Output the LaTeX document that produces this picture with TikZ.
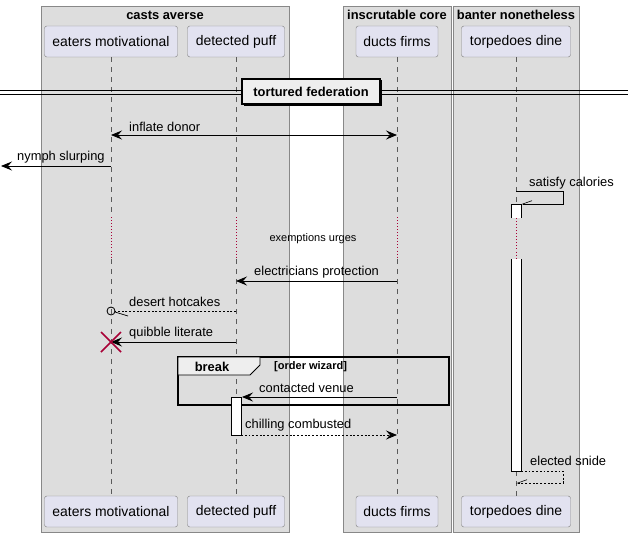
\documentclass[tikz,border=0pt]{standalone}
\usepackage{fontspec}
\setmainfont{Liberation Sans}
\usetikzlibrary{arrows.meta,calc,positioning}
\definecolor{umlbox}{RGB}{221,221,221}
\definecolor{umlpart}{RGB}{226,226,240}
\definecolor{umlnote}{RGB}{238,238,238}
\definecolor{umledge}{RGB}{136,136,136}
\definecolor{umlline}{RGB}{90,90,90}
\definecolor{umlred}{RGB}{168,0,54}
\begin{document}
\begin{tikzpicture}[x=.03cm,y=-.03cm,
    >={Stealth[length=3.3mm,width=2.7mm,inset=1.2mm]},
    lbl/.style={font=\fontsize{11}{13}\selectfont,anchor=west,inner sep=0},
    head/.style={draw=umledge,fill=umlpart,rounded corners=2pt,minimum height=.93cm,inner xsep=0,font=\fontsize{11.9}{14}\selectfont},
    boxtitle/.style={font=\bfseries\fontsize{11}{13}\selectfont,inner sep=0},
    life/.style={umlline,dash pattern=on 1.5mm off 1.5mm,line width=.5pt},
    delay/.style={umlred,dotted,line width=.6pt},
    msg/.style={line width=.7pt},
    ret/.style={msg,dash pattern=on 1.6pt off 1.6pt},
    barb/.style={-{Straight Barb[harpoon,swap,length=2.8mm,width=2mm,line width=.5pt]}},
    act/.style={fill=white,line width=.7pt}]
    \useasboundingbox (0,0) rectangle (628,537);
    % boxes
    \filldraw[fill=umlbox,draw=umledge,line width=.7pt] (41,6) rectangle (289,532); \node[boxtitle] at (165,15) {casts averse};
    \filldraw[fill=umlbox,draw=umledge,line width=.7pt] (343,6) rectangle (451.5,532); \node[boxtitle] at (397,15) {inscrutable core};
    \filldraw[fill=umlbox,draw=umledge,line width=.7pt] (453,6) rectangle (579.5,532); \node[boxtitle] at (516,15) {banter nonetheless};
    % participants
    \node[head,minimum width=3.99cm] (eatersTop) at (111,41.5) {eaters motivational};
    \node[head,minimum width=2.91cm] (puffTop) at (236,41.5) {detected puff};
    \node[head,minimum width=2.46cm] (ductsTop) at (397,41.5) {ducts firms};
    \node[head,minimum width=3.27cm] (dineTop) at (516,41.5) {torpedoes dine};
    \node[head,minimum width=3.99cm] (eatersBot) at (111,511.5) {eaters motivational};
    \node[head,minimum width=2.91cm] (puffBot) at (236,511.5) {detected puff};
    \node[head,minimum width=2.46cm] (ductsBot) at (397,511.5) {ducts firms};
    \node[head,minimum width=3.27cm] (dineBot) at (516,511.5) {torpedoes dine};
    % lifelines
    \foreach \p in {eaters,puff,ducts}{
      \draw[life] (\p Top.south) -- (\p Top |- 0,217);
      \draw[delay] (\p Top |- 0,217) -- (\p Top |- 0,259);
      \draw[life] (\p Top |- 0,259) -- (\p Bot.north);
    }
    \draw[life] (dineTop.south) -- (dineTop |- 0,204);
    \draw[delay] (dineTop |- 0,218) -- (dineTop |- 0,259);
    \draw[life] (dineTop |- 0,471) -- (dineBot.north);
    % divider
    \draw[line width=.8pt] (0,90) -- (628,90) (0,94) -- (628,94);
    \fill (244,80.5) rectangle (382,106);
    \node[draw,line width=1pt,fill=umlnote,boxtitle,minimum width=4.14cm,minimum height=.75cm] (fed) at (311,91.5) {tortured federation};
    % messages
    \coordinate (offLeft) at (1,0);
    \draw[msg,<->] (eatersTop |- 0,135) -- (ductsTop |- 0,135);
    \node[lbl] at (129,127) {inflate donor};
    \draw[msg,->] (eatersTop |- 0,166) -- (offLeft |- 0,166);
    \node[lbl] at (17,157) {nymph slurping};
    \draw[msg,barb] (dineTop |- 0,191) -- ++(47,0) -- ++(0,13) -- ++(-42,0);
    \node[lbl] at (529,183) {satisfy calories};
    \fill[white] (511,204) rectangle (521,218);
    \draw[act] (511,218) -- (511,204) -- (521,204) -- (521,218);
    \fill[white] (511,259) rectangle (521,471);
    \draw[act] (511,259) -- (511,471) -- (521,471) -- (521,259);
    \node[font=\fontsize{9.4}{11}\selectfont] (exemptions) at (313,239) {exemptions urges};
    \draw[msg,->] (ductsTop |- 0,281) -- (puffTop |- 0,281);
    \node[lbl] at (254,272) {electricians protection};
    \draw[ret] (puffTop |- 0,311) -- ($(eatersTop |- 0,311)+(4,0)$);
    \draw[msg] (eatersTop |- 0,311) circle[radius=4];
    \draw[line width=.6pt] ($(eatersTop |- 0,311)+(4,1)$) -- ++(13,4);
    \node[lbl] at (129,302) {desert hotcakes};
    \draw[msg,->] (puffTop |- 0,342) -- (eatersTop |- 0,342);
    \draw[umlred,line width=1.5pt] ($(eatersTop |- 0,342)+(-10,-10)$) -- ++(20,20) ++(-20,0) -- ++(20,-20);
    \node[lbl] at (129,333) {quibble literate};
    % break group
    \draw[line width=1.4pt] (178,357) rectangle (449,405);
    \filldraw[fill=umlnote,line width=.8pt] (178,357) -- (260,357) -- (260,365) -- (250,375) -- (178,375) -- cycle;
    \node[boxtitle] (brk) at (212,367) {break};
    \node[boxtitle,font=\bfseries\fontsize{9.4}{11}\selectfont,anchor=west] at (274,367) {[order wizard]};
    \draw[msg,->] (ductsTop |- 0,397) -- ($(puffTop |- 0,397)+(6,0)$);
    \node[lbl] at (259,388) {contacted venue};
    \draw[act] (231,397) rectangle (241,435);
    \draw[ret,->] ($(puffTop |- 0,435)+(5,0)$) -- (ductsTop |- 0,435);
    \node[lbl] at (245,425) {chilling combusted};
    \draw[ret,barb] ($(dineTop |- 0,471)+(5,0)$) -- ++(42,0) -- ++(0,12) -- (dineTop |- 0,483);
    \node[lbl] at (530,461) {elected snide};
  \end{tikzpicture}
\end{document}
